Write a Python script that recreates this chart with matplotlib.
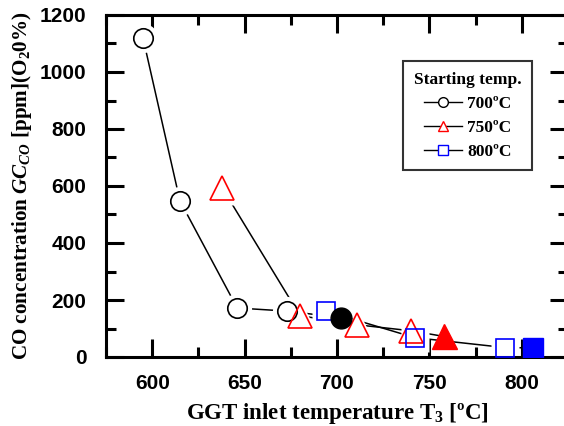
import matplotlib.pyplot as plt
from matplotlib.ticker import MultipleLocator

# =========================
# DATA
# =========================
t700 = [595, 615, 646, 673, 702]
co700 = [1120, 548, 172, 161, 138]

t750 = [638, 680, 711, 740, 758]
co750 = [592, 145, 113, 92, 72]

t800 = [694, 742, 791, 806]
co800 = [161, 68, 33, 32]

series = [
    ("700ºC", t700, co700, "o", "black", 14),
    ("750ºC", t750, co750, "^", "red", 17),
    ("800ºC", t800, co800, "s", "blue", 13.5),
]

# =========================
# STYLE
# =========================
plt.rcParams['mathtext.fontset'] = 'custom'
plt.rcParams['mathtext.rm'] = 'Liberation Serif:bold'
plt.rcParams['mathtext.it'] = 'Liberation Serif:bold:italic'
plt.rcParams['mathtext.bf'] = 'Liberation Serif:bold'

fig = plt.figure(figsize=(5.64, 4.26), dpi=100)
ax = fig.add_axes([106 / 564, 69 / 426, 462 / 564, 342 / 426])

# =========================
# PLOT
# =========================
handles = []
for name, t, co, mk, col, ms in series:
    # line
    ax.plot(t, co, color="black", lw=1.1, zorder=1)
    # white halo so the line stops short of the marker
    ax.plot(t[:-1], co[:-1], ls="none", marker=mk, ms=ms + 7,
            mfc="white", mec="none", zorder=2)
    # open markers
    ax.plot(t[:-1], co[:-1], ls="none", marker=mk, ms=ms,
            mfc="none", mec=col, mew=1.2, zorder=3)
    # filled marker at starting temperature
    ax.plot(t[-1], co[-1], ls="none", marker=mk, ms=ms + 1,
            mfc=col, mec=col, zorder=4)
    lh, = ax.plot([], [], color="black", lw=1, marker=mk, ms=7,
                  mfc="white", mec=col, mew=1.0)
    handles.append((lh, name))

ax.set_xlim(575, 825)
ax.set_ylim(0, 1200)
ax.xaxis.set_major_locator(MultipleLocator(50))
ax.xaxis.set_minor_locator(MultipleLocator(25))
ax.yaxis.set_major_locator(MultipleLocator(200))
ax.yaxis.set_minor_locator(MultipleLocator(100))
ax.tick_params(which="both", direction="in", top=True, right=True, width=2.2)
ax.tick_params(which="major", length=13, labelsize=15)
ax.tick_params(axis="x", which="major", pad=12)
ax.tick_params(axis="y", which="major", pad=14)
ax.tick_params(which="minor", length=7)
for lab in ax.get_xticklabels() + ax.get_yticklabels():
    lab.set_fontfamily("Liberation Sans")
    lab.set_fontweight("bold")
for sp in ax.spines.values():
    sp.set_linewidth(2.2)

ax.set_xlabel("GGT inlet temperature T$_3$ [ºC]", family="Liberation Serif",
              fontweight="bold", fontsize=16.5, labelpad=6)
ax.set_ylabel("CO concentration $GC_{CO}$ [ppm](O$_2$0%)",
              family="Liberation Serif", fontweight="bold", fontsize=15.2,
              labelpad=4)

leg = ax.legend([h for h, _ in handles], [n for _, n in handles],
                title="Starting temp.", loc="upper left",
                bbox_to_anchor=(0.625, 0.89), frameon=True, fancybox=False,
                edgecolor="black", handlelength=2.2, handletextpad=0.3,
                borderpad=0.6, labelspacing=0.45,
                prop={"family": "Liberation Serif", "weight": "bold", "size": 12.5},
                title_fontproperties={"family": "Liberation Serif",
                                      "weight": "bold", "size": 12.5})
leg.get_frame().set_linewidth(1.5)

fig.savefig("out.png", dpi=100)
